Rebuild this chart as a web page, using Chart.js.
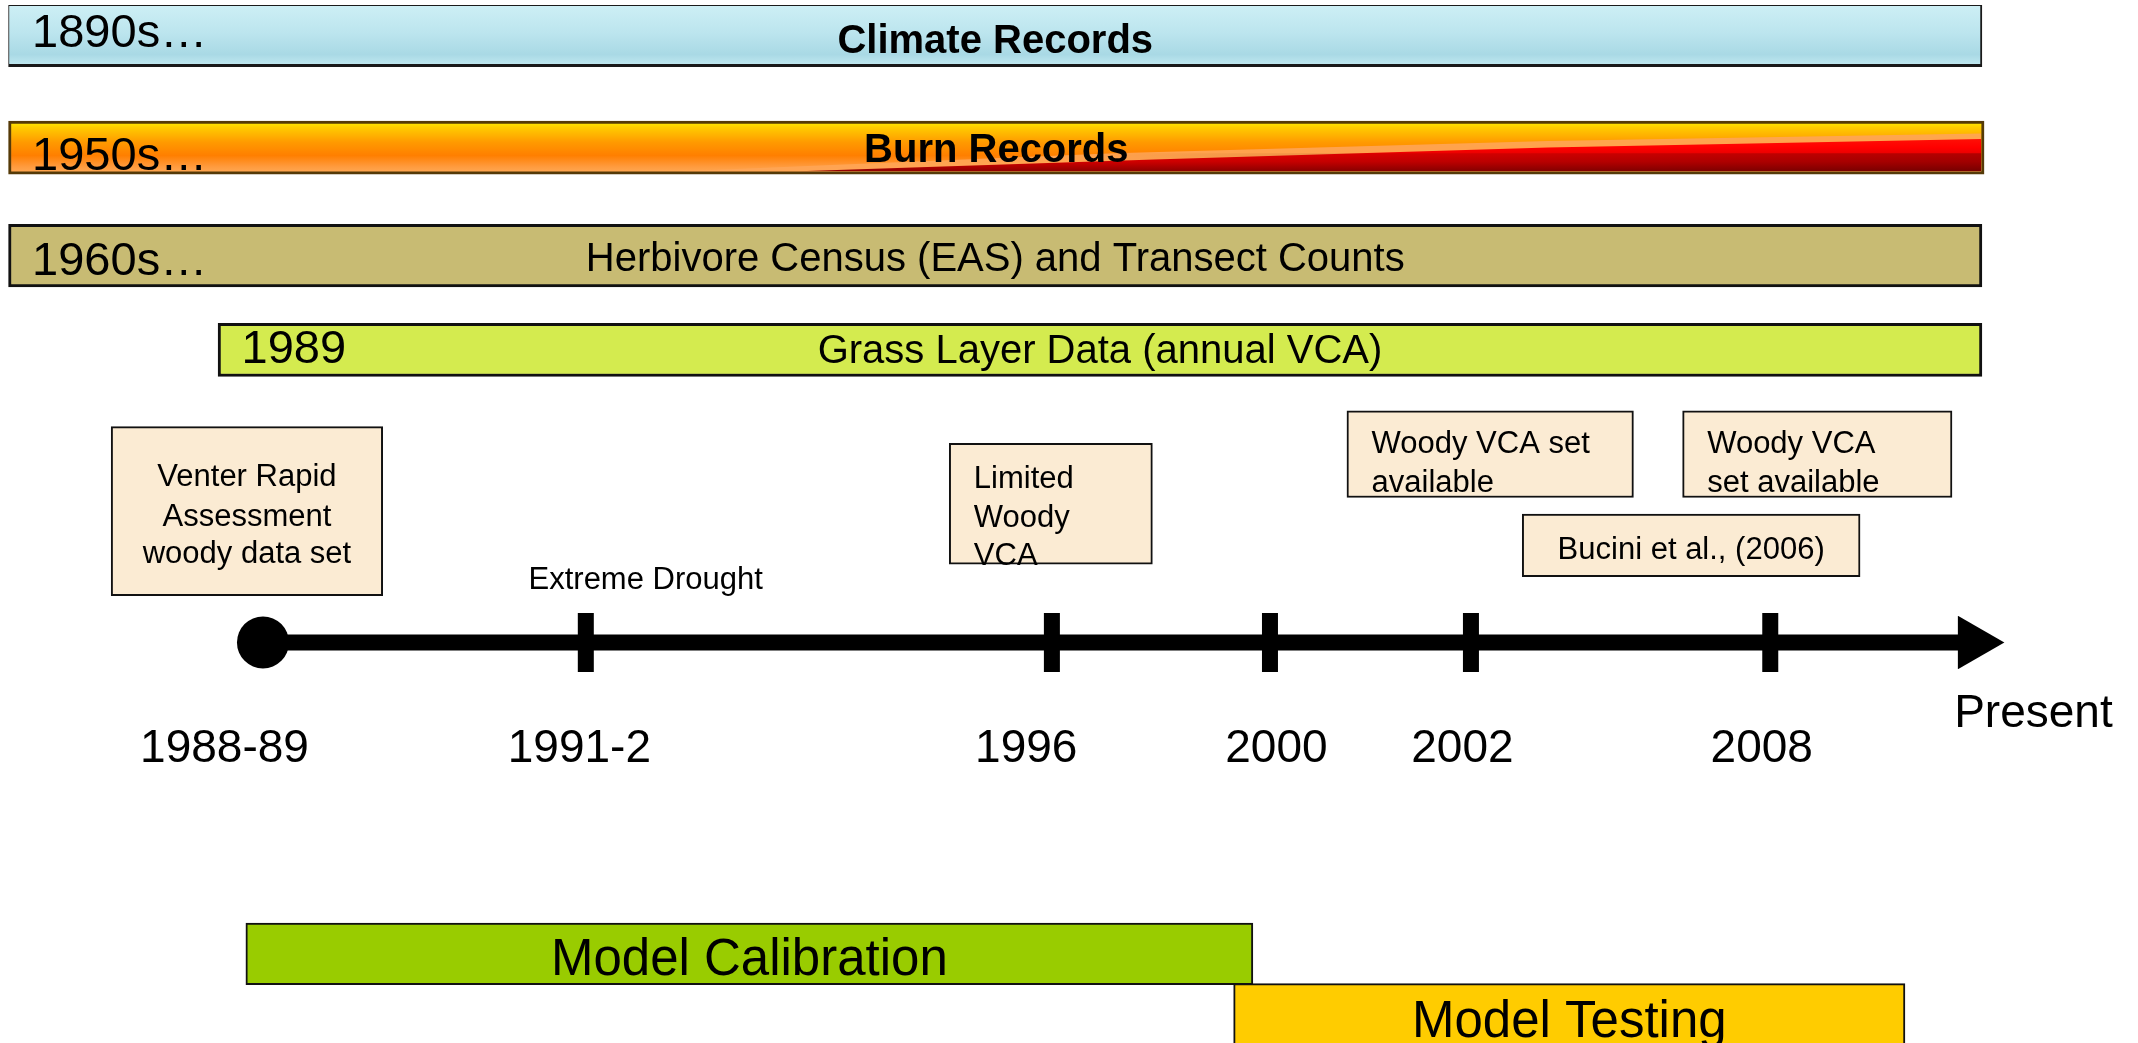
<!DOCTYPE html>
<html>
<head>
<meta charset="utf-8">
<script src="https://cdn.jsdelivr.net/npm/chart.js@4.4.0/dist/chart.umd.min.js"></script>
<style>
  html, body { margin: 0; padding: 0; background: #fff; }
  #wrap { width: 2138px; height: 1043px; position: relative; }
</style>
</head>
<body>
<div id="wrap"><canvas id="timeline"></canvas></div>
<script>
// Schematic slide axes: x and y both run 0..100 across the slide (y downwards)

// Long-term data records (the four wide bars at the top)
const recordNames = ["Climate Records", "Burn Records", "Herbivore Census (EAS) and Transect Counts", "Grass Layer Data (annual VCA)"];
const recordSince = ["1890s…", "1950s…", "1960s…", "1989"];
const recordStart = [0.4, 0.4, 0.4, 10.2];
const recordEnd = [92.7, 92.8, 92.7, 92.7];
const recordRows = [[0.5, 6.4], [11.6, 16.7], [21.5, 27.5], [31.0, 36.1]];

// Note boxes above the time line
const noteLines = [
    ["Venter Rapid", "Assessment", "woody data set"],
    ["Limited", "Woody", "VCA"],
    ["Woody VCA set", "available"],
    ["Woody VCA", "set available"],
    ["Bucini et al., (2006)"]
];
const noteStart = [5.2, 44.4, 63.0, 78.7, 71.2];
const noteEnd = [17.9, 53.9, 76.4, 91.3, 87.0];
const noteRows = [[40.9, 57.1], [42.5, 54.1], [39.4, 47.7], [39.4, 47.7], [49.3, 55.3]];

// The time line itself
const milestoneLabels = ["1988-89", "1991-2", "1996", "2000", "2002", "2008"];
const milestoneTicks = [12.3, 27.4, 49.2, 59.4, 68.8, 82.8];
const timelineRow = 61.6;
const timelineArrow = 92.3;

// Modelling phases at the bottom
const modelNames = ["Model Calibration", "Model Testing"];
const modelStart = [11.5, 57.7];
const modelEnd = [58.6, 89.1];
const modelRows = [[88.5, 94.4], [94.3, 101.6]];

// text placement (layout only)
const FONT = "'Liberation Sans', Arial, Helvetica, sans-serif";
const sinceBase = [4.5, 16.3, 26.4, 34.8];
const nameBase = [5.1, 15.5, 26.0, 34.8];
const noteAlign = ["center", "left", "left", "left", "center"];
const noteBase = [[46.6, 50.4, 54.0], [46.8, 50.5, 54.2], [43.4, 47.2], [43.4, 47.2], [53.6]];
const labelCentres = [10.5, 27.1, 48.0, 59.7, 68.4, 82.4];
const modelBase = [93.5, 99.4];

// span in pixels of a y-range, through the y scale
function rowThickness(row) {
    return (c) => {
        const s = c.chart.scales.y;
        return Math.abs(s.getPixelForValue(row[1]) - s.getPixelForValue(row[0]));
    };
}

function climateFill(c) {
    const chart = c.chart;
    if (!chart.chartArea) return "#c4e9f0";
    const y = chart.scales.y;
    const g = chart.ctx.createLinearGradient(0, y.getPixelForValue(recordRows[0][0]), 0, y.getPixelForValue(recordRows[0][1]));
    g.addColorStop(0, "#cdeff5");
    g.addColorStop(0.45, "#bce5ee");
    g.addColorStop(0.8, "#a9d9e5");
    g.addColorStop(1, "#c4ebf2");
    return g;
}

function burnFill(c) {
    const chart = c.chart;
    if (!chart.chartArea) return "#ff8000";
    const y = chart.scales.y;
    const g = chart.ctx.createLinearGradient(0, y.getPixelForValue(recordRows[1][0]), 0, y.getPixelForValue(recordRows[1][1]));
    g.addColorStop(0, "#fff200");
    g.addColorStop(0.12, "#ffcc00");
    g.addColorStop(0.4, "#ff9a00");
    g.addColorStop(0.65, "#ff7f00");
    g.addColorStop(0.85, "#ff9a3c");
    g.addColorStop(1, "#ffac5a");
    return g;
}

const recordColours = [climateFill, burnFill, "#c8bb73", "#d4eb4f"];
const recordBorders = ["#1a1a1a", "#553a08", "#111111", "#111111"];
const recordBorderWidths = [{top: 1, left: 1, right: 2, bottom: 3}, 3, 3, 3];

const datasets = [];

// time line: shaft, start dot, tick marks, arrow head
datasets.push({
    type: "line", label: "start",
    data: [{x: milestoneTicks[0], y: timelineRow}],
    showLine: false, pointStyle: "circle", pointRadius: 26,
    pointBackgroundColor: "#000", pointBorderWidth: 0, clip: false
});
datasets.push({
    type: "line", label: "ticks",
    data: milestoneTicks.slice(1).map(v => ({x: v, y: timelineRow})),
    showLine: false, pointStyle: "line", pointRadius: 29.5, pointRotation: 90,
    pointBorderColor: "#000", pointBorderWidth: 16, clip: false
});
datasets.push({
    type: "line", label: "arrow",
    data: [{x: timelineArrow, y: timelineRow}],
    showLine: false, pointStyle: "triangle", pointRadius: 31, pointRotation: 90,
    pointBackgroundColor: "#000", pointBorderWidth: 0, clip: false
});
datasets.push({
    type: "line", label: "shaft",
    data: [{x: milestoneTicks[0], y: timelineRow}, {x: timelineArrow - 0.6, y: timelineRow}],
    borderColor: "#000", borderWidth: 16, borderCapStyle: "butt", pointRadius: 0, clip: false
});

function addBar(label, from, to, row, fill, border, width) {
    datasets.push({
        type: "bar", label: label, indexAxis: "y", grouped: false,
        data: [{x: [from, to], y: (row[0] + row[1]) / 2}],
        barThickness: rowThickness(row),
        backgroundColor: fill, borderColor: border, borderWidth: width,
        borderSkipped: false, clip: false
    });
}

modelNames.forEach((n, i) => addBar(n, modelStart[i], modelEnd[i], modelRows[i], i == 0 ? "#99cc00" : "#ffcc00", "#111", 2));
noteLines.forEach((n, i) => addBar(n.join(" "), noteStart[i], noteEnd[i], noteRows[i], "#fbebd3", "#111", 2));
recordNames.forEach((n, i) => addBar(n, recordStart[i], recordEnd[i], recordRows[i], recordColours[i], recordBorders[i], recordBorderWidths[i]));

// red tail on the burn bar
const burnShade = {
    id: "burnShade",
    afterDatasetDraw(chart, args) {
        if (args.meta.label !== "Burn Records") return;
        const {ctx} = chart;
        const bar = args.meta.data[0];
        const p = bar.getProps(["x", "y", "base", "height"], true);
        const top = p.y - p.height / 2 + 3, bot = p.y + p.height / 2 - 3;
        const left = p.base + 3, right = p.x - 3;
        const w = right - left, h = bot - top;
        ctx.save();
        ctx.beginPath();
        ctx.rect(left, top, w, h);
        ctx.clip();
        // light band above the red
        ctx.beginPath();
        ctx.moveTo(left + w * 0.34, bot);
        ctx.lineTo(left + w * 0.56, top + h * 0.62);
        ctx.lineTo(left + w * 0.78, top + h * 0.36);
        ctx.lineTo(right, top + h * 0.2);
        ctx.lineTo(right, bot);
        ctx.closePath();
        ctx.fillStyle = "rgba(255,165,85,0.9)";
        ctx.fill();
        const g = ctx.createLinearGradient(0, top, 0, bot);
        g.addColorStop(0, "#ff2a10");
        g.addColorStop(0.5, "#ff0000");
        g.addColorStop(0.8, "#d00000");
        g.addColorStop(1, "#900000");
        ctx.beginPath();
        ctx.moveTo(left + w * 0.4, bot);
        ctx.lineTo(left + w * 0.58, top + h * 0.75);
        ctx.lineTo(left + w * 0.78, top + h * 0.5);
        ctx.lineTo(right, top + h * 0.32);
        ctx.lineTo(right, bot);
        ctx.closePath();
        ctx.fillStyle = g;
        ctx.fill();
        const g2 = ctx.createLinearGradient(left + w * 0.55, 0, right, 0);
        g2.addColorStop(0, "rgba(70,0,0,0)");
        g2.addColorStop(1, "rgba(70,0,0,0.35)");
        ctx.fillStyle = g2;
        ctx.fillRect(left + w * 0.55, top + h * 0.62, w * 0.45, h * 0.38);
        ctx.restore();
    }
};

const slideText = {
    id: "slideText",
    afterDatasetsDraw(chart) {
        const {ctx, scales: {x, y}} = chart;
        const put = (str, xv, yv, font, align) => {
            ctx.font = font;
            ctx.textAlign = align;
            ctx.fillText(str, x.getPixelForValue(xv), y.getPixelForValue(yv));
        };
        ctx.save();
        ctx.fillStyle = "#000";
        ctx.textBaseline = "alphabetic";

        recordNames.forEach((n, i) => {
            put(recordSince[i], recordStart[i] + 1.1, sinceBase[i], "47px " + FONT, "left");
            const bold = i < 2 ? "bold " : "";
            put(n, (recordStart[i] + recordEnd[i]) / 2, nameBase[i], bold + "40px " + FONT, "center");
        });

        noteLines.forEach((lines, i) => {
            const xv = noteAlign[i] == "center" ? (noteStart[i] + noteEnd[i]) / 2 : noteStart[i] + 1.15;
            lines.forEach((l, j) => put(l, xv, noteBase[i][j], "31px " + FONT, noteAlign[i]));
        });

        put("Extreme Drought", 30.2, 56.5, "31px " + FONT, "center");
        milestoneLabels.forEach((l, i) => put(l, labelCentres[i], 73.1, "46px " + FONT, "center"));
        put("Present", 91.4, 69.7, "46px " + FONT, "left");

        modelNames.forEach((n, i) => put(n, (modelStart[i] + modelEnd[i]) / 2, modelBase[i], "51px " + FONT, "center"));
        ctx.restore();
    }
};

new Chart(document.getElementById("timeline"), {
    type: "bar",
    data: {datasets: datasets},
    options: {
        responsive: true,
        maintainAspectRatio: false,
        animation: false,
        events: [],
        layout: {padding: 0, autoPadding: false},
        plugins: {legend: {display: false}, tooltip: {enabled: false}},
        scales: {
            x: {type: "linear", min: 0, max: 100, offset: false, display: false},
            y: {type: "linear", min: 0, max: 100, reverse: true, offset: false, display: false}
        }
    },
    plugins: [burnShade, slideText]
});
</script>
</body>
</html>
